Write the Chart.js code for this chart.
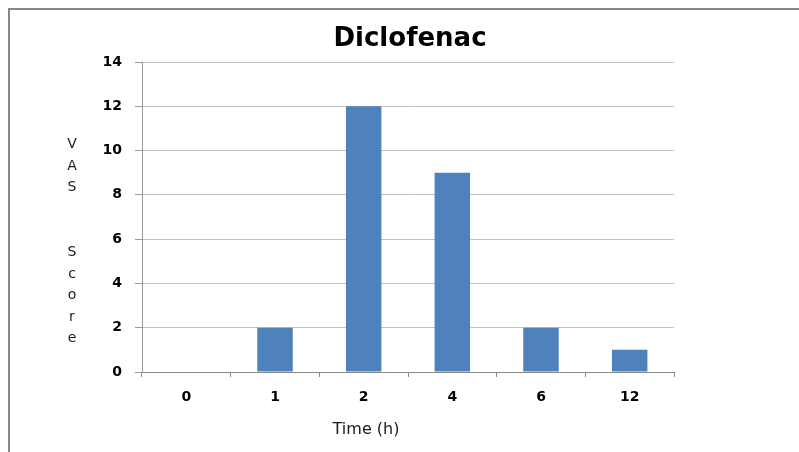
<!DOCTYPE html>
<html>
<head>
<meta charset="utf-8">
<script src="https://cdn.jsdelivr.net/npm/chart.js@4"></script>
<style>
html,body{margin:0;padding:0;background:#fff;overflow:hidden;}
#wrap{position:absolute;left:0;top:0;width:799px;height:452px;}
</style>
</head>
<body>
<div id="wrap"><canvas id="c" width="799" height="452"></canvas></div>
<script>
const chartTitle = 'Diclofenac';
const categories = ['0', '1', '2', '4', '6', '12'];
const vasScores = [0, 2, 12, 9, 2, 1];
const yTicks = [0, 2, 4, 6, 8, 10, 12, 14];
const yTitleLetters = ['V', 'A', 'S', '', '', 'S', 'c', 'o', 'r', 'e'];
const xTitle = 'Time (h)';

const FONT = "'DejaVu Sans', 'Open Sans', sans-serif";

const frame = {
  id: 'frame',
  beforeDraw(chart) {
    const ctx = chart.ctx;
    ctx.save();
    ctx.strokeStyle = '#878787';
    ctx.lineWidth = 2;
    ctx.beginPath();
    ctx.moveTo(9, chart.height + 5);
    ctx.lineTo(9, 9);
    ctx.lineTo(chart.width + 5, 9);
    ctx.stroke();
    ctx.restore();
  }
};

const axisTitles = {
  id: 'axisTitles',
  afterDraw(chart) {
    const ctx = chart.ctx;
    const area = chart.chartArea;
    ctx.save();
    ctx.fillStyle = '#1a1a1a';
    ctx.font = '14px ' + FONT;
    ctx.textAlign = 'center';
    ctx.textBaseline = 'alphabetic';
    const x0 = area.left - 70;
    let y = area.top + 86;
    yTitleLetters.forEach(l => { if (l) ctx.fillText(l, x0, y); y += 21.6; });
    ctx.font = '16px ' + FONT;
    ctx.fillText(xTitle, area.left + 224, area.bottom + 62);
    ctx.restore();
  }
};

new Chart(document.getElementById('c'), {
  type: 'bar',
  data: {
    labels: categories,
    datasets: [{
      data: vasScores,
      backgroundColor: '#4F81BD',
      borderWidth: 0,
      categoryPercentage: 1,
      barPercentage: 0.4
    }]
  },
  options: {
    responsive: false,
    animation: false,
    devicePixelRatio: 1,
    layout: { padding: { left: 21, right: 0, top: 0, bottom: 0 } },
    plugins: {
      legend: { display: false },
      tooltip: { enabled: false },
      title: {
        display: true,
        text: chartTitle,
        color: '#000',
        font: { family: FONT, size: 26, weight: 'bold' },
        padding: { top: 23.4, bottom: 7.4 }
      }
    },
    scales: {
      x: {
        grid: { display: true, drawOnChartArea: false, color: '#888', tickLength: 5, offset: true },
        border: { display: true, color: '#888', width: 1 },
        ticks: { color: '#000', padding: 12, font: { family: FONT, size: 14, weight: 'bold' }, maxRotation: 0 },
        afterFit(s) { s.height = 80; }
      },
      y: {
        min: 0, max: 14,
        afterBuildTicks(s) { s.ticks = yTicks.map(v => ({ value: v })); },
        grid: { color: '#c2c2c2', tickColor: '#9a9a9a', tickLength: 7 },
        border: { display: true, color: '#999', width: 1 },
        ticks: { color: '#000', padding: 13, font: { family: FONT, size: 14, weight: 'bold' } },
        afterFit(s) { s.width = 121; }
      },
      yRight: {
        position: 'right',
        display: true,
        grid: { display: false, drawTicks: false },
        border: { display: false },
        ticks: { display: false },
        afterFit(s) { s.width = 125; }
      }
    }
  },
  plugins: [frame, axisTitles]
});
</script>
</body>
</html>
